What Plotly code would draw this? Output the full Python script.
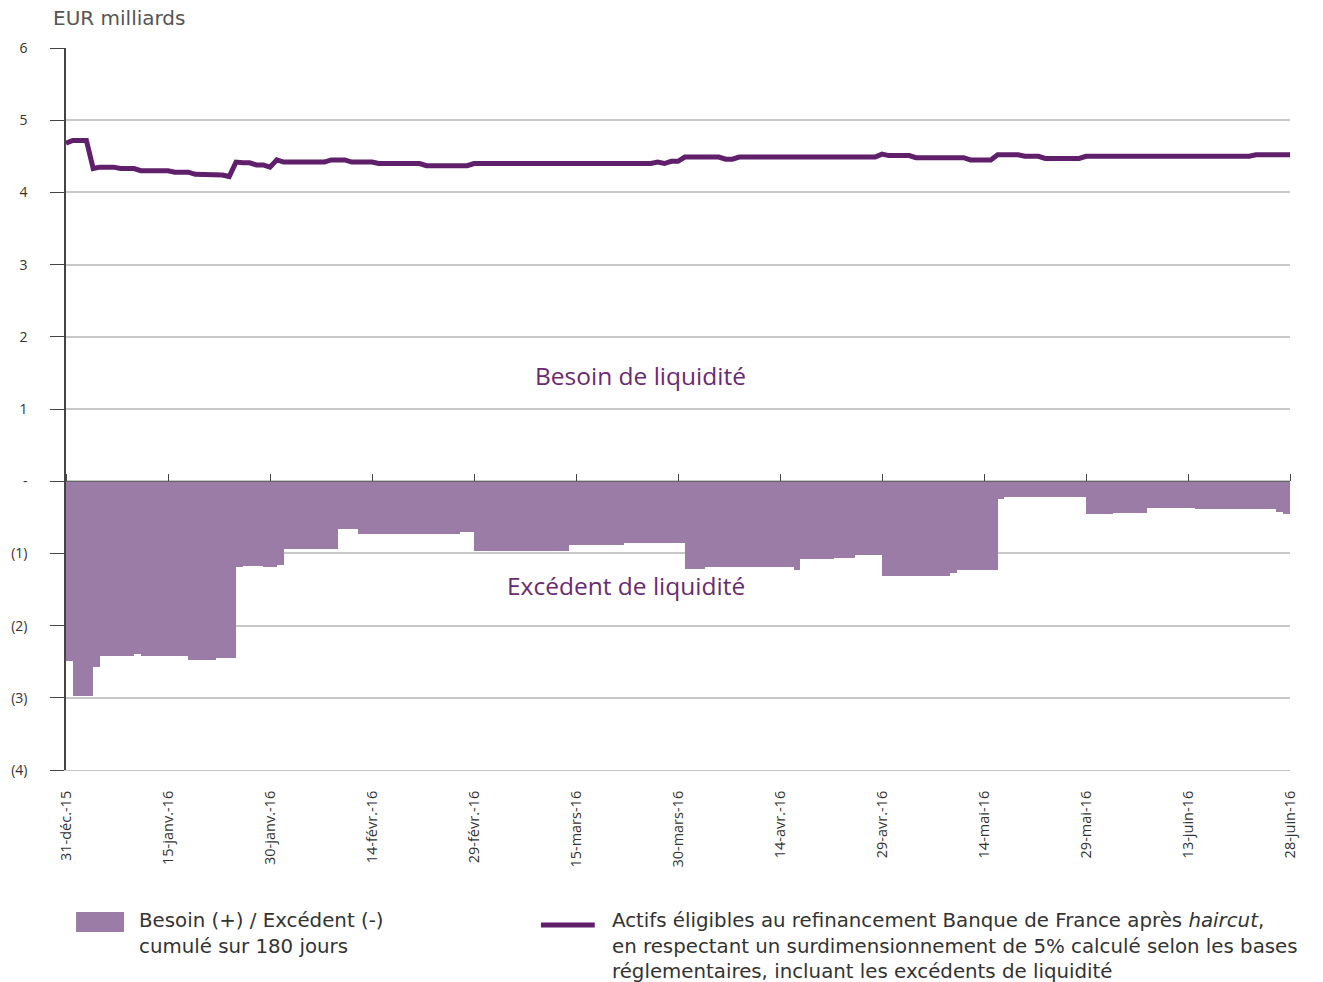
import plotly.graph_objects as go

# ---- data ----
tick_days = [0, 15, 30, 45, 60, 75, 90, 105, 120, 135, 150, 165, 180]
tick_labels = ["31-déc.-15", "15-janv.-16", "30-janv.-16", "14-févr.-16", "29-févr.-16",
               "15-mars-16", "30-mars-16", "14-avr.-16", "29-avr.-16", "14-mai-16",
               "29-mai-16", "13-juin-16", "28-juin-16"]
y_tickvals = [-4, -3, -2, -1, 0, 1, 2, 3, 4, 5, 6]
y_ticktext = ["(4)", "(3)", "(2)", "(1)", "-", "1", "2", "3", "4", "5", "6"]

# cumulative need (+) / surplus (-) over 180 days, as (value, number of days) runs
besoin_runs = [(-2.49, 1), (-2.97, 3), (-2.57, 1), (-2.42, 5), (-2.40, 1), (-2.42, 7),
               (-2.47, 4), (-2.45, 3), (-1.19, 1), (-1.17, 3), (-1.19, 2), (-1.16, 1),
               (-0.94, 8), (-0.66, 3), (-0.73, 15), (-0.71, 2), (-0.96, 14), (-0.89, 8),
               (-0.86, 9), (-1.21, 3), (-1.19, 13), (-1.23, 1), (-1.08, 5), (-1.06, 3),
               (-1.02, 4), (-1.31, 10), (-1.27, 1), (-1.23, 6), (-0.25, 1), (-0.22, 12),
               (-0.46, 4), (-0.44, 5), (-0.37, 7), (-0.39, 12), (-0.42, 1), (-0.46, 2)]

# eligible assets after haircut, as (value, number of days) runs
actifs_runs = [(4.68, 1), (4.72, 3), (4.33, 1), (4.35, 3), (4.33, 3), (4.30, 5), (4.28, 3),
               (4.25, 4), (4.24, 1), (4.22, 1), (4.42, 1), (4.41, 2), (4.38, 2), (4.35, 1),
               (4.45, 1), (4.42, 7), (4.45, 3), (4.42, 4), (4.40, 7), (4.37, 7), (4.40, 27),
               (4.42, 1), (4.40, 1), (4.43, 2), (4.49, 6), (4.46, 2), (4.49, 21), (4.53, 1),
               (4.51, 4), (4.48, 8), (4.45, 4), (4.52, 4), (4.50, 3), (4.47, 6), (4.50, 25),
               (4.52, 6)]

besoin = [v for v, n in besoin_runs for _ in range(n)]
actifs = [v for v, n in actifs_runs for _ in range(n)]
days = list(range(len(besoin)))

BAR = "#9a7ca6"
LINE = "#5f1f6b"
TXT = "#6a2a72"
GRID = "#c8c8c8"
AX = "#444444"
FONT = "Open Sans"
WIDE = "DejaVu Sans"

fig = go.Figure()
fig.add_trace(go.Bar(x=days, y=besoin, width=1, offset=0,
                     marker=dict(color=BAR, line=dict(width=0)),
                     name="Besoin (+) / Excédent (-) cumulé sur 180 jours",
                     showlegend=False))
fig.add_trace(go.Scatter(x=days, y=actifs, mode="lines", xaxis="x2",
                         line=dict(color=LINE, width=5),
                         name="Actifs éligibles", showlegend=False))

fig.update_layout(
    width=1323, height=982,
    margin=dict(l=66, r=33, t=48, b=212),
    paper_bgcolor="white", plot_bgcolor="white",
    bargap=0,
    font=dict(family=FONT, color="#333333"),
    xaxis=dict(range=[0, 180], tickvals=tick_days, ticktext=tick_labels,
               tickangle=-90, ticks="outside", ticklen=14, tickcolor="rgba(0,0,0,0)",
               tickfont=dict(size=14.5, color="#333333"),
               showgrid=False, zeroline=False, showline=True, linecolor=GRID, linewidth=1),
    xaxis2=dict(range=[0, 180], tickvals=tick_days, overlaying="x", anchor="free",
                position=0.4, side="top", ticks="outside", ticklen=7, tickcolor=AX,
                showticklabels=False, showgrid=False, zeroline=False,
                showline=True, linecolor="#666666", linewidth=1),
    yaxis=dict(range=[-4, 6], tickvals=y_tickvals, ticktext=y_ticktext,
               ticks="outside", ticklen=14, tickcolor=AX, ticklabelstandoff=20,
               tickfont=dict(size=14, color="#333333"),
               showgrid=True, gridcolor=GRID, gridwidth=1.5, zeroline=False,
               showline=True, linecolor=AX, linewidth=1.5),
)

annotations = [
    dict(text="EUR milliards", xref="paper", yref="paper", x=-0.012, y=1.0416,
         xanchor="left", yanchor="middle", showarrow=False,
         font=dict(family=WIDE, size=20, color="#555555")),
    dict(text="Besoin de liquidité", xref="x", yref="y", x=84.5, y=1.47,
         showarrow=False, font=dict(size=24.5, color=TXT)),
    dict(text="Excédent de liquidité", xref="x", yref="y", x=82.3, y=-1.45,
         showarrow=False, font=dict(size=24.5, color=TXT)),
    dict(text="Besoin (+) / Excédent (-)<br>cumulé sur 180 jours", xref="paper", yref="paper",
         x=0.058, y=-0.2265, xanchor="left", yanchor="middle", align="left",
         showarrow=False, font=dict(family=WIDE, size=19.8, color="#333333")),
    dict(text="Actifs éligibles au refinancement Banque de France après <i>haircut</i>,"
              "<br>en respectant un surdimensionnement de 5% calculé selon les bases"
              "<br>réglementaires, incluant les excédents de liquidité",
         xref="paper", yref="paper", x=0.4444, y=-0.2435, xanchor="left", yanchor="middle",
         align="left", showarrow=False, font=dict(family=WIDE, size=19.8, color="#333333")),
]
fig.update_layout(annotations=annotations)

fig.add_shape(type="rect", xref="paper", yref="paper", x0=0.0082, x1=0.0474,
              y0=-0.2244, y1=-0.1967, fillcolor=BAR, line=dict(width=0))
fig.add_shape(type="line", xref="paper", yref="paper", x0=0.388, x1=0.432,
              y0=-0.2147, y1=-0.2147, line=dict(color=LINE, width=5))

fig.write_html("out.html")
